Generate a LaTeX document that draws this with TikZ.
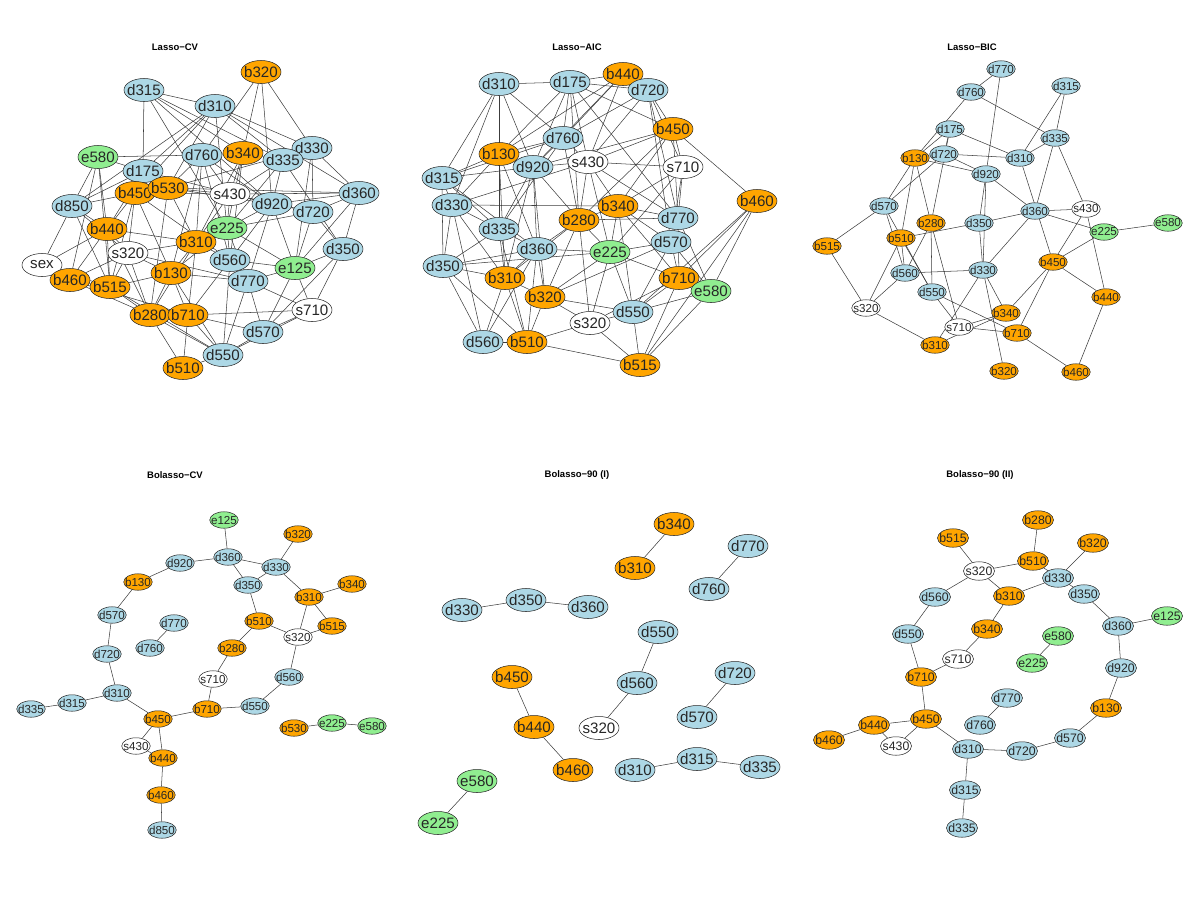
\documentclass[tikz,border=0pt]{standalone}
\usepackage{fontspec}
\setmainfont{Liberation Sans}
\usepackage{tikz}
\definecolor{vorange}{HTML}{FFA500}
\definecolor{vblue}{HTML}{ADD8E6}
\definecolor{vgreen}{HTML}{90EE90}
\definecolor{linkgray}{HTML}{3C3C3C}
\usetikzlibrary{shapes.geometric,backgrounds}

\begin{document}
\begin{tikzpicture}[x=0.02cm,y=-0.02cm,
    vx/.style={ellipse,draw=black!85,line width=0.3pt,inner sep=0pt,text=black!85,
      execute at begin node={\hbox to 0pt\bgroup\hss},execute at end node={\hss\egroup}},
    vlarge/.style={vx,minimum width=0.8cm,minimum height=0.46cm,font=\fontsize{8.6}{9}\selectfont},
    vsmall/.style={vx,minimum width=0.57cm,minimum height=0.33cm,font=\fontsize{6.6}{7}\selectfont},
    vmedium/.style={vx,minimum width=0.62cm,minimum height=0.37cm,font=\fontsize{7}{7.5}\selectfont},
    dnode/.style={fill=vblue},
    bnode/.style={fill=vorange},
    enode/.style={fill=vgreen},
    snode/.style={fill=white},
    ttl/.style={font=\fontsize{5.4}{6}\selectfont\bfseries}]
  \useasboundingbox (0,0) rectangle (1200,900);

  % Lasso-CV
  \node[ttl] (t-cv) at (175,47) {Lasso−CV};
  \node[vlarge,dnode] (cv-d315) at (144,90) {d315};
  \node[vlarge,bnode] (cv-b320) at (261,72) {b320};
  \node[vlarge,dnode] (cv-d310) at (215,106) {d310};
  \node[vlarge,enode] (cv-e580) at (98,157) {e580};
  \node[vlarge,dnode] (cv-d760) at (202,155) {d760};
  \node[vlarge,bnode] (cv-b340) at (243,153) {b340};
  \node[vlarge,dnode] (cv-d330) at (312,148) {d330};
  \node[vlarge,dnode] (cv-d335) at (283,160) {d335};
  \node[vlarge,dnode] (cv-d175) at (143,171) {d175};
  \node[vlarge,bnode] (cv-b450) at (135,193) {b450};
  \node[vlarge,bnode] (cv-b530) at (168,188) {b530};
  \node[vlarge,snode] (cv-s430) at (230,194) {s430};
  \node[vlarge,dnode] (cv-d360) at (359,193) {d360};
  \node[vlarge,dnode] (cv-d850) at (72,206) {d850};
  \node[vlarge,dnode] (cv-d920) at (272,204) {d920};
  \node[vlarge,dnode] (cv-d720) at (313,212) {d720};
  \node[vlarge,bnode] (cv-b440) at (107,229) {b440};
  \node[vlarge,enode] (cv-e225) at (227,228) {e225};
  \node[vlarge,bnode] (cv-b310) at (196,242) {b310};
  \node[vlarge,dnode] (cv-d350) at (343,249) {d350};
  \node[vlarge,snode] (cv-s320) at (128,253) {s320};
  \node[vlarge,dnode] (cv-d560) at (230,260) {d560};
  \node[vlarge,snode] (cv-sex) at (42,265) {sex};
  \node[vlarge,enode] (cv-e125) at (295,268) {e125};
  \node[vlarge,bnode] (cv-b130) at (171,273) {b130};
  \node[vlarge,bnode] (cv-b460) at (70,280) {b460};
  \node[vlarge,dnode] (cv-d770) at (248,281) {d770};
  \node[vlarge,bnode] (cv-b515) at (110,287) {b515};
  \node[vlarge,snode] (cv-s710) at (312,310) {s710};
  \node[vlarge,bnode] (cv-b280) at (150,315) {b280};
  \node[vlarge,bnode] (cv-b710) at (188,315) {b710};
  \node[vlarge,dnode] (cv-d570) at (263,332) {d570};
  \node[vlarge,dnode] (cv-d550) at (223,355) {d550};
  \node[vlarge,bnode] (cv-b510) at (183,368) {b510};

  % Lasso-AIC
  \node[ttl] (t-aic) at (577,47) {Lasso−AIC};
  \node[vlarge,dnode] (aic-d310) at (499,84) {d310};
  \node[vlarge,dnode] (aic-d175) at (570,82) {d175};
  \node[vlarge,bnode] (aic-b440) at (623,74) {b440};
  \node[vlarge,dnode] (aic-d720) at (648,90) {d720};
  \node[vlarge,bnode] (aic-b450) at (673,129) {b450};
  \node[vlarge,snode] (aic-s430) at (588,162) {s430};
  \node[vlarge,dnode] (aic-d760) at (563,138) {d760};
  \node[vlarge,bnode] (aic-b130) at (499,154) {b130};
  \node[vlarge,dnode] (aic-d920) at (533,167) {d920};
  \node[vlarge,snode] (aic-s710) at (683,167) {s710};
  \node[vlarge,dnode] (aic-d315) at (442,178) {d315};
  \node[vlarge,dnode] (aic-d330) at (452,205) {d330};
  \node[vlarge,bnode] (aic-b460) at (757,201) {b460};
  \node[vlarge,bnode] (aic-b280) at (579,220) {b280};
  \node[vlarge,bnode] (aic-b340) at (618,206) {b340};
  \node[vlarge,dnode] (aic-d570) at (671,242) {d570};
  \node[vlarge,dnode] (aic-d770) at (678,218) {d770};
  \node[vlarge,dnode] (aic-d335) at (499,229) {d335};
  \node[vlarge,dnode] (aic-d360) at (537,249) {d360};
  \node[vlarge,enode] (aic-e225) at (610,252) {e225};
  \node[vlarge,dnode] (aic-d350) at (443,266) {d350};
  \node[vlarge,bnode] (aic-b310) at (505,278) {b310};
  \node[vlarge,bnode] (aic-b710) at (679,278) {b710};
  \node[vlarge,enode] (aic-e580) at (711,291) {e580};
  \node[vlarge,bnode] (aic-b320) at (545,297) {b320};
  \node[vlarge,snode] (aic-s320) at (590,323) {s320};
  \node[vlarge,dnode] (aic-d550) at (633,312) {d550};
  \node[vlarge,dnode] (aic-d560) at (483,342) {d560};
  \node[vlarge,bnode] (aic-b510) at (527,342) {b510};
  \node[vlarge,bnode] (aic-b515) at (640,365) {b515};

  % Lasso-BIC
  \node[ttl] (t-bic) at (972,47) {Lasso−BIC};
  \node[vsmall,dnode] (bic-d770) at (1001,69) {d770};
  \node[vsmall,dnode] (bic-d760) at (971,92) {d760};
  \node[vsmall,dnode] (bic-d315) at (1066,86) {d315};
  \node[vsmall,dnode] (bic-d175) at (950,129) {d175};
  \node[vsmall,dnode] (bic-d335) at (1055,138) {d335};
  \node[vsmall,bnode] (bic-b130) at (915,158) {b130};
  \node[vsmall,dnode] (bic-d720) at (944,154) {d720};
  \node[vsmall,dnode] (bic-d310) at (1020,158) {d310};
  \node[vsmall,dnode] (bic-d920) at (986,174) {d920};
  \node[vsmall,dnode] (bic-d570) at (884,206) {d570};
  \node[vsmall,bnode] (bic-b280) at (931,223) {b280};
  \node[vsmall,dnode] (bic-d350) at (979,223) {d350};
  \node[vsmall,dnode] (bic-d360) at (1035,211) {d360};
  \node[vsmall,snode] (bic-s430) at (1086,209) {s430};
  \node[vsmall,enode] (bic-e225) at (1104,232) {e225};
  \node[vsmall,enode] (bic-e580) at (1168,223) {e580};
  \node[vsmall,bnode] (bic-b510) at (901,238) {b510};
  \node[vsmall,bnode] (bic-b515) at (827,246) {b515};
  \node[vsmall,bnode] (bic-b450) at (1053,262) {b450};
  \node[vsmall,dnode] (bic-d330) at (983,270) {d330};
  \node[vsmall,dnode] (bic-d560) at (905,273) {d560};
  \node[vsmall,dnode] (bic-d550) at (932,292) {d550};
  \node[vsmall,bnode] (bic-b440) at (1106,297) {b440};
  \node[vsmall,snode] (bic-s320) at (866,308) {s320};
  \node[vsmall,bnode] (bic-b340) at (1006,313) {b340};
  \node[vsmall,snode] (bic-s710) at (959,327) {s710};
  \node[vsmall,bnode] (bic-b710) at (1017,333) {b710};
  \node[vsmall,bnode] (bic-b310) at (935,345) {b310};
  \node[vsmall,bnode] (bic-b320) at (1004,371) {b320};
  \node[vsmall,bnode] (bic-b460) at (1076,372) {b460};

  % Bolasso-CV
  \node[ttl] (t-bcv) at (175,475) {Bolasso−CV};
  \node[vsmall,enode] (bcv-e125) at (224,520) {e125};
  \node[vsmall,bnode] (bcv-b320) at (298,534) {b320};
  \node[vsmall,dnode] (bcv-d360) at (228,557) {d360};
  \node[vsmall,dnode] (bcv-d920) at (180,563) {d920};
  \node[vsmall,dnode] (bcv-d330) at (276,567) {d330};
  \node[vsmall,bnode] (bcv-b130) at (138,582) {b130};
  \node[vsmall,bnode] (bcv-b340) at (352,584) {b340};
  \node[vsmall,dnode] (bcv-d350) at (248,585) {d350};
  \node[vsmall,bnode] (bcv-b310) at (309,597) {b310};
  \node[vsmall,dnode] (bcv-d570) at (112,615) {d570};
  \node[vsmall,dnode] (bcv-d770) at (174,623) {d770};
  \node[vsmall,bnode] (bcv-b510) at (259,621) {b510};
  \node[vsmall,bnode] (bcv-b515) at (332,626) {b515};
  \node[vsmall,snode] (bcv-s320) at (298,637) {s320};
  \node[vsmall,dnode] (bcv-d760) at (150,648) {d760};
  \node[vsmall,bnode] (bcv-b280) at (232,648) {b280};
  \node[vsmall,dnode] (bcv-d720) at (107,654) {d720};
  \node[vsmall,dnode] (bcv-d560) at (289,677) {d560};
  \node[vsmall,snode] (bcv-s710) at (213,679) {s710};
  \node[vsmall,dnode] (bcv-d310) at (117,693) {d310};
  \node[vsmall,dnode] (bcv-d315) at (72,703) {d315};
  \node[vsmall,dnode] (bcv-d335) at (31,709) {d335};
  \node[vsmall,dnode] (bcv-d550) at (255,706) {d550};
  \node[vsmall,bnode] (bcv-b710) at (207,709) {b710};
  \node[vsmall,bnode] (bcv-b450) at (158,719) {b450};
  \node[vsmall,enode] (bcv-e225) at (332,723) {e225};
  \node[vsmall,enode] (bcv-e580) at (372,726) {e580};
  \node[vsmall,bnode] (bcv-b530) at (294,728) {b530};
  \node[vsmall,snode] (bcv-s430) at (136,746) {s430};
  \node[vsmall,bnode] (bcv-b440) at (163,758) {b440};
  \node[vsmall,bnode] (bcv-b460) at (161,795) {b460};
  \node[vsmall,dnode] (bcv-d850) at (162,830) {d850};

  % Bolasso-90 (I)
  \node[ttl] (t-bi) at (577,475) {Bolasso−90 (I)};
  \node[vlarge,bnode] (bi-b340) at (674,524) {b340};
  \node[vlarge,dnode] (bi-d770) at (748,546) {d770};
  \node[vlarge,bnode] (bi-b310) at (635,568) {b310};
  \node[vlarge,dnode] (bi-d760) at (709,589) {d760};
  \node[vlarge,dnode] (bi-d350) at (526,600) {d350};
  \node[vlarge,dnode] (bi-d330) at (462,610) {d330};
  \node[vlarge,dnode] (bi-d360) at (588,607) {d360};
  \node[vlarge,dnode] (bi-d550) at (658,632) {d550};
  \node[vlarge,bnode] (bi-b450) at (512,677) {b450};
  \node[vlarge,dnode] (bi-d560) at (637,683) {d560};
  \node[vlarge,dnode] (bi-d720) at (735,673) {d720};
  \node[vlarge,bnode] (bi-b440) at (534,727) {b440};
  \node[vlarge,snode] (bi-s320) at (599,728) {s320};
  \node[vlarge,dnode] (bi-d570) at (697,717) {d570};
  \node[vlarge,bnode] (bi-b460) at (573,770) {b460};
  \node[vlarge,dnode] (bi-d310) at (635,770) {d310};
  \node[vlarge,dnode] (bi-d315) at (697,759) {d315};
  \node[vlarge,dnode] (bi-d335) at (760,767) {d335};
  \node[vlarge,enode] (bi-e580) at (477,781) {e580};
  \node[vlarge,enode] (bi-e225) at (438,823) {e225};

  % Bolasso-90 (II)
  \node[ttl] (t-bii) at (980,475) {Bolasso−90 (II)};
  \node[vmedium,bnode] (bii-b280) at (1038,520) {b280};
  \node[vmedium,bnode] (bii-b515) at (953,538) {b515};
  \node[vmedium,bnode] (bii-b320) at (1093,543) {b320};
  \node[vmedium,bnode] (bii-b510) at (1033,561) {b510};
  \node[vmedium,snode] (bii-s320) at (979,571) {s320};
  \node[vmedium,dnode] (bii-d330) at (1058,578) {d330};
  \node[vmedium,bnode] (bii-b310) at (1009,596) {b310};
  \node[vmedium,dnode] (bii-d350) at (1084,594) {d350};
  \node[vmedium,dnode] (bii-d560) at (935,597) {d560};
  \node[vmedium,enode] (bii-e125) at (1167,616) {e125};
  \node[vmedium,dnode] (bii-d360) at (1118,626) {d360};
  \node[vmedium,bnode] (bii-b340) at (987,629) {b340};
  \node[vmedium,dnode] (bii-d550) at (908,634) {d550};
  \node[vmedium,enode] (bii-e580) at (1058,636) {e580};
  \node[vmedium,snode] (bii-s710) at (958,659) {s710};
  \node[vmedium,enode] (bii-e225) at (1032,663) {e225};
  \node[vmedium,dnode] (bii-d920) at (1121,668) {d920};
  \node[vmedium,bnode] (bii-b710) at (921,677) {b710};
  \node[vmedium,bnode] (bii-b130) at (1106,708) {b130};
  \node[vmedium,dnode] (bii-d770) at (1007,698) {d770};
  \node[vmedium,bnode] (bii-b450) at (926,719) {b450};
  \node[vmedium,dnode] (bii-d760) at (980,725) {d760};
  \node[vmedium,bnode] (bii-b440) at (874,725) {b440};
  \node[vmedium,bnode] (bii-b460) at (829,740) {b460};
  \node[vmedium,dnode] (bii-d570) at (1070,738) {d570};
  \node[vmedium,snode] (bii-s430) at (896,746) {s430};
  \node[vmedium,dnode] (bii-d310) at (968,749) {d310};
  \node[vmedium,dnode] (bii-d720) at (1022,751) {d720};
  \node[vmedium,dnode] (bii-d315) at (965,790) {d315};
  \node[vmedium,dnode] (bii-d335) at (962,828) {d335};

  \begin{scope}[on background layer,every edge/.style={draw=linkgray,line width=0.3pt}]
    % Lasso-CV links
    \path (cv-d315) edge (cv-d310) edge (cv-d175) edge (cv-d335) edge (cv-d920) edge (cv-e225) edge (cv-b340);
    \path (cv-b320) edge (cv-d760) edge (cv-b340) edge (cv-d330) edge (cv-d920);
    \path (cv-d310) edge (cv-d330) edge (cv-d335) edge (cv-d175) edge (cv-b530) edge (cv-b450) edge (cv-d850) edge (cv-d360) edge (cv-e225);
    \path (cv-e580) edge (cv-d760) edge (cv-d175) edge (cv-d850) edge (cv-b440) edge (cv-b460) edge (cv-b515);
    \path (cv-d760) edge (cv-b340) edge (cv-b530) edge (cv-s430) edge (cv-b310) edge (cv-d560) edge (cv-b130) edge (cv-d920);
    \path (cv-b340) edge (cv-d335) edge (cv-s430) edge (cv-e225) edge (cv-d560) edge (cv-b310);
    \path (cv-d330) edge (cv-d360) edge (cv-d720) edge (cv-d335) edge (cv-e125) edge (cv-b530);
    \path (cv-d335) edge (cv-d920) edge (cv-e225) edge (cv-s430) edge (cv-d350);
    \path (cv-d175) edge (cv-b530) edge (cv-b450) edge (cv-d850) edge (cv-b440) edge (cv-d920);
    \path (cv-b450) edge (cv-b530) edge (cv-s430) edge (cv-d850) edge (cv-b440) edge (cv-s320) edge (cv-b515) edge (cv-b130) edge (cv-d560);
    \path (cv-b530) edge (cv-s430) edge (cv-d360) edge (cv-b310) edge (cv-d920) edge (cv-b280);
    \path (cv-s430) edge (cv-d920) edge (cv-d360) edge (cv-e225) edge (cv-b310) edge (cv-d720);
    \path (cv-d360) edge (cv-d720) edge (cv-d350) edge (cv-e125) edge (cv-d920);
    \path (cv-d850) edge (cv-b440) edge (cv-sex) edge (cv-s320) edge (cv-b515);
    \path (cv-d920) edge (cv-d720) edge (cv-e225) edge (cv-e125) edge (cv-d560) edge (cv-d770);
    \path (cv-d720) edge (cv-d350) edge (cv-e125) edge (cv-e225);
    \path (cv-b440) edge (cv-s320) edge (cv-sex) edge (cv-b460) edge (cv-b515) edge (cv-b310) edge (cv-b280);
    \path (cv-e225) edge (cv-b310) edge (cv-d560) edge (cv-e125) edge (cv-d770) edge (cv-b130);
    \path (cv-b310) edge (cv-s320) edge (cv-b130) edge (cv-d560) edge (cv-b710) edge (cv-b280);
    \path (cv-d350) edge (cv-e125) edge (cv-s710) edge (cv-d570);
    \path (cv-s320) edge (cv-b130) edge (cv-b515) edge (cv-b460) edge (cv-d770) edge (cv-b280);
    \path (cv-d560) edge (cv-e125) edge (cv-d770) edge (cv-d550) edge (cv-b710);
    \path (cv-sex) edge (cv-b460) edge (cv-b515);
    \path (cv-e125) edge (cv-s710) edge (cv-d570) edge (cv-d770);
    \path (cv-b130) edge (cv-b280) edge (cv-b710) edge (cv-d770) edge (cv-b515) edge (cv-d550);
    \path (cv-b460) edge (cv-b515) edge (cv-b280) edge (cv-b710);
    \path (cv-d770) edge (cv-d570) edge (cv-d550) edge (cv-s710);
    \path (cv-b515) edge (cv-b280) edge (cv-d550);
    \path (cv-s710) edge (cv-b710) edge (cv-d570) edge (cv-d550);
    \path (cv-b280) edge (cv-b710) edge (cv-b510) edge (cv-d550);
    \path (cv-b710) edge (cv-b510) edge (cv-d550) edge (cv-d570);
    \path (cv-d550) edge (cv-d570) edge (cv-b510);

    % Lasso-AIC links
    \path (aic-d310) edge (aic-d175) edge (aic-d315) edge (aic-d330) edge (aic-d335) edge (aic-d760) edge (aic-b130) edge (aic-d920);
    \path (aic-d175) edge (aic-b440) edge (aic-d720) edge (aic-d760) edge (aic-b130) edge (aic-d920) edge (aic-s430) edge (aic-b280) edge (aic-b450) edge (aic-d770);
    \path (aic-b440) edge (aic-d720) edge (aic-s430) edge (aic-d920) edge (aic-b130) edge (aic-d760);
    \path (aic-d720) edge (aic-b450) edge (aic-d760) edge (aic-s430) edge (aic-s710) edge (aic-d770) edge (aic-d570);
    \path (aic-b450) edge (aic-b460) edge (aic-s710) edge (aic-b340) edge (aic-s430) edge (aic-d770) edge (aic-b280) edge (aic-d920);
    \path (aic-d760) edge (aic-b130) edge (aic-d920) edge (aic-s430) edge (aic-d335) edge (aic-b280) edge (aic-d315);
    \path (aic-b130) edge (aic-d920) edge (aic-d315) edge (aic-d330) edge (aic-d335) edge (aic-b310) edge (aic-d360);
    \path (aic-d920) edge (aic-s430) edge (aic-d315) edge (aic-d335) edge (aic-d360) edge (aic-b280) edge (aic-b310) edge (aic-b320);
    \path (aic-s430) edge (aic-s710) edge (aic-b340) edge (aic-b280) edge (aic-d770) edge (aic-e225) edge (aic-d330);
    \path (aic-s710) edge (aic-d770) edge (aic-d570) edge (aic-b340) edge (aic-e225);
    \path (aic-d315) edge (aic-d330) edge (aic-d335) edge (aic-d350) edge (aic-d360);
    \path (aic-d330) edge (aic-d350) edge (aic-d335) edge (aic-d560) edge (aic-b310) edge (aic-b340);
    \path (aic-b460) edge (aic-b710) edge (aic-e580) edge (aic-b515) edge (aic-d550);
    \path (aic-b340) edge (aic-d770) edge (aic-e225) edge (aic-b280) edge (aic-d570) edge (aic-d550) edge (aic-b710);
    \path (aic-d770) edge (aic-d570) edge (aic-b710) edge (aic-e580) edge (aic-b280);
    \path (aic-b280) edge (aic-d360) edge (aic-e225) edge (aic-b320) edge (aic-s320) edge (aic-b310);
    \path (aic-d335) edge (aic-d360) edge (aic-d350) edge (aic-b310) edge (aic-b510);
    \path (aic-d570) edge (aic-e225) edge (aic-b710) edge (aic-d550) edge (aic-e580) edge (aic-b320);
    \path (aic-d360) edge (aic-e225) edge (aic-b310) edge (aic-b320) edge (aic-d350) edge (aic-b510) edge (aic-d560);
    \path (aic-e225) edge (aic-b710) edge (aic-d550) edge (aic-b320) edge (aic-s320) edge (aic-d350);
    \path (aic-d350) edge (aic-b310) edge (aic-d560) edge (aic-b510);
    \path (aic-b310) edge (aic-b510) edge (aic-b320) edge (aic-d560);
    \path (aic-b710) edge (aic-e580) edge (aic-d550) edge (aic-b515) edge (aic-s320);
    \path (aic-e580) edge (aic-d550) edge (aic-b515);
    \path (aic-b320) edge (aic-b510) edge (aic-s320) edge (aic-d550);
    \path (aic-d550) edge (aic-s320) edge (aic-b515);
    \path (aic-s320) edge (aic-b510) edge (aic-b515);
    \path (aic-d560) edge (aic-b510);
    \path (aic-b510) edge (aic-b515);

    % Lasso-BIC links
    \path (bic-d770) edge (bic-d760) edge (bic-d920);
    \path (bic-d760) edge (bic-d335) edge (bic-b130);
    \path (bic-d315) edge (bic-d310) edge (bic-d335);
    \path (bic-d335) edge (bic-d310) edge (bic-d360) edge (bic-s430);
    \path (bic-d175) edge (bic-b130) edge (bic-d310) edge (bic-b280) edge (bic-d720);
    \path (bic-b130) edge (bic-d720) edge (bic-d920) edge (bic-d570) edge (bic-b510) edge (bic-b280);
    \path (bic-d720) edge (bic-d310) edge (bic-d920) edge (bic-d570);
    \path (bic-d920) edge (bic-d350) edge (bic-d330) edge (bic-d360);
    \path (bic-d310) edge (bic-b450);
    \path (bic-d360) edge (bic-s430) edge (bic-e225) edge (bic-d350) edge (bic-d330);
    \path (bic-s430) edge (bic-b450) edge (bic-b440);
    \path (bic-e225) edge (bic-e580) edge (bic-b450);
    \path (bic-b450) edge (bic-b440) edge (bic-b340) edge (bic-b710);
    \path (bic-b440) edge (bic-b460);
    \path (bic-b710) edge (bic-b460);
    \path (bic-d570) edge (bic-b515) edge (bic-d560) edge (bic-d550);
    \path (bic-b510) edge (bic-d350) edge (bic-d550) edge (bic-s320) edge (bic-d560);
    \path (bic-b280) edge (bic-d550) edge (bic-s710) edge (bic-d560);
    \path (bic-d350) edge (bic-d330);
    \path (bic-d560) edge (bic-d330) edge (bic-s320);
    \path (bic-b515) edge (bic-s320);
    \path (bic-s320) edge (bic-b310);
    \path (bic-d550) edge (bic-b710) edge (bic-s710);
    \path (bic-d330) edge (bic-b340) edge (bic-b320) edge (bic-b310);
    \path (bic-s710) edge (bic-b340) edge (bic-b710);
    \path (bic-b310) edge (bic-b340);

    % Bolasso-CV links
    \path (bcv-d360) edge (bcv-e125) edge (bcv-d920) edge (bcv-d330) edge (bcv-d350);
    \path (bcv-d330) edge (bcv-d350) edge (bcv-b320) edge (bcv-b310);
    \path (bcv-b130) edge (bcv-d920) edge (bcv-d570);
    \path (bcv-b310) edge (bcv-b340) edge (bcv-b515) edge (bcv-s320);
    \path (bcv-s320) edge (bcv-b515) edge (bcv-b510) edge (bcv-d560);
    \path (bcv-b510) edge (bcv-d350) edge (bcv-b280);
    \path (bcv-s710) edge (bcv-b280) edge (bcv-b710);
    \path (bcv-d550) edge (bcv-d560) edge (bcv-b710);
    \path (bcv-b450) edge (bcv-b710) edge (bcv-d310) edge (bcv-s430) edge (bcv-b440);
    \path (bcv-d720) edge (bcv-d570) edge (bcv-d310);
    \path (bcv-d315) edge (bcv-d310) edge (bcv-d335);
    \path (bcv-d770) edge (bcv-d760);
    \path (bcv-b440) edge (bcv-s430) edge (bcv-b460);
    \path (bcv-b460) edge (bcv-d850);
    \path (bcv-e225) edge (bcv-b530) edge (bcv-e580);

    % Bolasso-90 (I) links
    \path (bi-b340) edge (bi-b310);
    \path (bi-d770) edge (bi-d760);
    \path (bi-d350) edge (bi-d330) edge (bi-d360);
    \path (bi-d560) edge (bi-d550) edge (bi-s320);
    \path (bi-d720) edge (bi-d570);
    \path (bi-b440) edge (bi-b450) edge (bi-b460);
    \path (bi-d315) edge (bi-d310) edge (bi-d335);
    \path (bi-e580) edge (bi-e225);

    % Bolasso-90 (II) links
    \path (bii-b510) edge (bii-b280) edge (bii-s320) edge (bii-d350);
    \path (bii-s320) edge (bii-b515) edge (bii-b310) edge (bii-d560);
    \path (bii-d330) edge (bii-b320) edge (bii-b310);
    \path (bii-d360) edge (bii-d350) edge (bii-e125) edge (bii-d920);
    \path (bii-b130) edge (bii-d920) edge (bii-d570);
    \path (bii-d720) edge (bii-d570) edge (bii-d310);
    \path (bii-d310) edge (bii-b450) edge (bii-d315);
    \path (bii-d315) edge (bii-d335);
    \path (bii-b340) edge (bii-b310) edge (bii-s710);
    \path (bii-b710) edge (bii-s710) edge (bii-d550) edge (bii-b450);
    \path (bii-d550) edge (bii-d560);
    \path (bii-b450) edge (bii-b440) edge (bii-s430);
    \path (bii-b440) edge (bii-s430) edge (bii-b460);
    \path (bii-e580) edge (bii-e225);
    \path (bii-d770) edge (bii-d760);
  \end{scope}
\end{tikzpicture}
\end{document}
